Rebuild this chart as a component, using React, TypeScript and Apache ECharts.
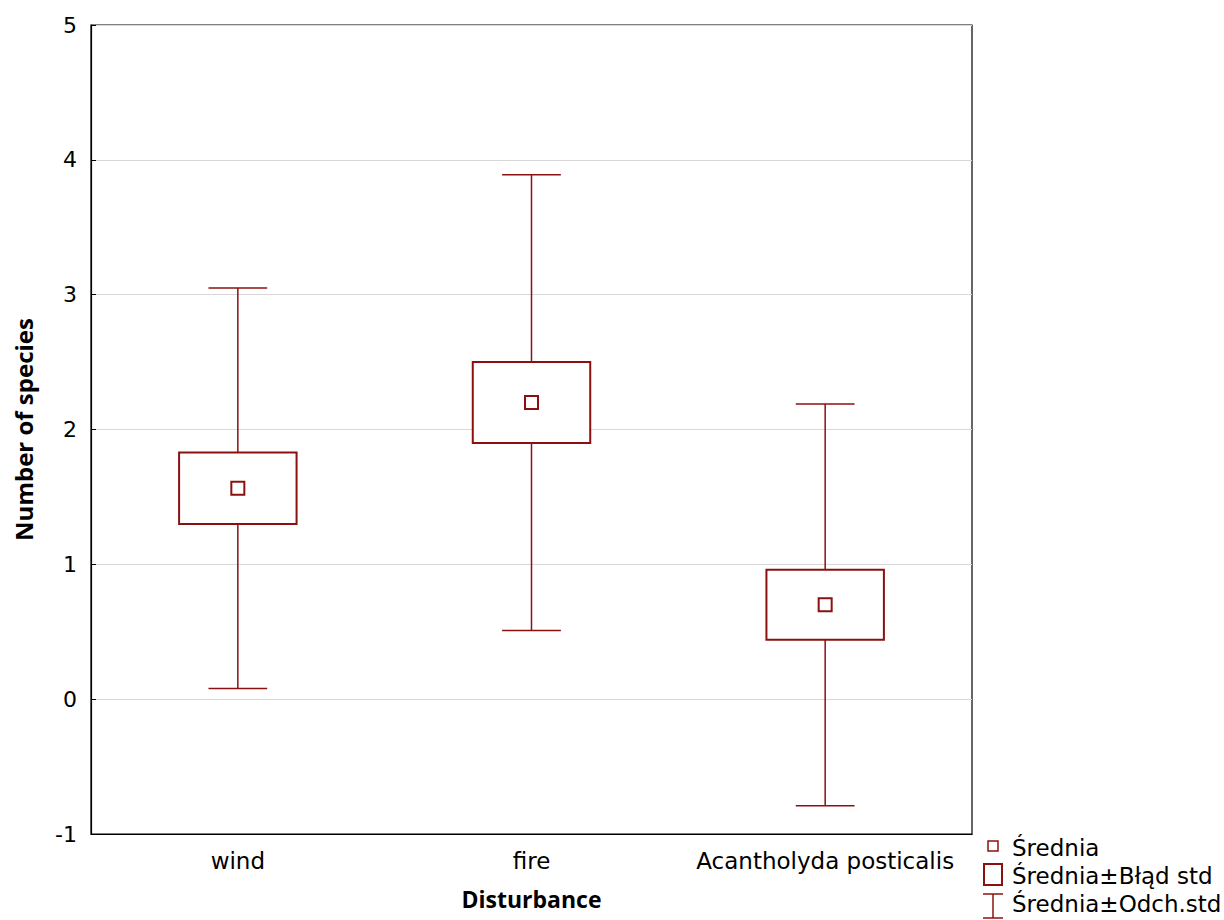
import React, { useEffect, useRef } from "react";
import * as echarts from "echarts";

const categories = ["wind", "fire", "Acantholyda posticalis"];
const means = [1.565, 2.2, 0.7];
const seLow = [1.3, 1.9, 0.44];
const seHigh = [1.83, 2.5, 0.96];
const sdLow = [0.08, 0.51, -0.79];
const sdHigh = [3.05, 3.89, 2.19];
const yTicks = [-1, 0, 1, 2, 3, 4, 5];
const legendLabels = ["Średnia", "Średnia±Błąd std", "Średnia±Odch.std"];

const RED = "#8b1010";
const TICK_FONT = "DejaVu Sans";

export default function App() {
  const ref = useRef<HTMLDivElement>(null);
  useEffect(() => {
    if (!ref.current) return;
    const chart = echarts.init(ref.current, null, { renderer: "svg" });
    const data = categories.map((c, i) => [i, means[i], seLow[i], seHigh[i], sdLow[i], sdHigh[i]]);
    const renderItem = (params: any, api: any) => {
      const i = api.value(0);
      const pMean = api.coord([i, api.value(1)]);
      const pSeL = api.coord([i, api.value(2)]);
      const pSeH = api.coord([i, api.value(3)]);
      const pSdL = api.coord([i, api.value(4)]);
      const pSdH = api.coord([i, api.value(5)]);
      const band = api.size([1, 0])[0];
      const x = pMean[0];
      const bw = band * 0.2;
      const cw = band * 0.1;
      const ms = 6.5;
      const lineStyle = { stroke: RED, lineWidth: 1.5, fill: "none" };
      return {
        type: "group",
        children: [
          { type: "line", shape: { x1: x, y1: pSdH[1], x2: x, y2: pSeH[1] }, style: lineStyle },
          { type: "line", shape: { x1: x, y1: pSeL[1], x2: x, y2: pSdL[1] }, style: lineStyle },
          { type: "line", shape: { x1: x - cw, y1: pSdH[1], x2: x + cw, y2: pSdH[1] }, style: lineStyle },
          { type: "line", shape: { x1: x - cw, y1: pSdL[1], x2: x + cw, y2: pSdL[1] }, style: lineStyle },
          {
            type: "rect",
            shape: { x: x - bw, y: pSeH[1], width: bw * 2, height: pSeL[1] - pSeH[1] },
            style: { stroke: RED, lineWidth: 2, fill: "#fff" },
          },
          {
            type: "rect",
            shape: { x: x - ms, y: pMean[1] - ms, width: ms * 2, height: ms * 2 },
            style: { stroke: RED, lineWidth: 2, fill: "#fff" },
          },
        ],
      };
    };
    const legendFont = { fontFamily: TICK_FONT, fontSize: 23, fill: "#000" };
    chart.setOption({
      animation: false,
      backgroundColor: "#fff",
      grid: {
        left: 91, right: 252, top: 25, bottom: 86,
        containLabel: false, outerBoundsMode: "none",
        show: true, borderColor: "#000", borderWidth: 1.2, backgroundColor: "transparent",
      },
      xAxis: {
        type: "category",
        data: categories,
        boundaryGap: true,
        name: "Disturbance",
        nameLocation: "middle",
        nameGap: 53,
        nameTextStyle: { fontFamily: "Open Sans", fontWeight: "bold", fontSize: 23, color: "#000" },
        axisLine: { onZero: false, lineStyle: { color: "#000", width: 1.2 } },
        axisTick: { inside: true, length: 5, alignWithLabel: true, interval: 0, lineStyle: { color: "#000" } },
        axisLabel: { interval: 0, hideOverlap: false, fontFamily: TICK_FONT, fontSize: 23, color: "#000", margin: 15 },
        splitLine: { show: false },
      },
      yAxis: {
        type: "value",
        min: yTicks[0],
        max: yTicks[yTicks.length - 1],
        interval: 1,
        name: "Number of species",
        nameLocation: "middle",
        nameGap: 56,
        nameTextStyle: { fontFamily: "Open Sans", fontWeight: "bold", fontSize: 24, color: "#000" },
        axisLine: { show: true, onZero: false, lineStyle: { color: "#000", width: 1.2 } },
        axisTick: { show: true, inside: true, length: 5, lineStyle: { color: "#000" } },
        axisLabel: { fontFamily: TICK_FONT, fontSize: 22, color: "#000", margin: 14 },
        splitLine: { show: true, lineStyle: { color: "#d8d8d8", width: 1 } },
      },
      series: [
        {
          type: "custom",
          renderItem,
          data,
          encode: { x: 0, y: [1, 2, 3, 4, 5] },
          clip: false,
        },
      ],
      graphic: [
        { type: "rect", shape: { x: 988, y: 841, width: 10, height: 10 }, style: { stroke: RED, lineWidth: 1.5, fill: "#fff" } },
        { type: "text", x: 1012, y: 848, style: { ...legendFont, text: legendLabels[0], verticalAlign: "middle" } },
        { type: "rect", shape: { x: 984, y: 864, width: 18, height: 21 }, style: { stroke: RED, lineWidth: 2, fill: "#fff" } },
        { type: "text", x: 1012, y: 876, style: { ...legendFont, text: legendLabels[1], verticalAlign: "middle" } },
        { type: "line", shape: { x1: 993, y1: 894, x2: 993, y2: 918 }, style: { stroke: RED, lineWidth: 1.5 } },
        { type: "line", shape: { x1: 983, y1: 894, x2: 1003, y2: 894 }, style: { stroke: RED, lineWidth: 1.5 } },
        { type: "line", shape: { x1: 983, y1: 918, x2: 1003, y2: 918 }, style: { stroke: RED, lineWidth: 1.5 } },
        { type: "text", x: 1012, y: 904, style: { ...legendFont, text: legendLabels[2], verticalAlign: "middle" } },
      ],
    });
    return () => chart.dispose();
  }, []);
  return <div ref={ref} style={{ position: "fixed", left: 0, top: 0, width: 1224, height: 920 }} />;
}
